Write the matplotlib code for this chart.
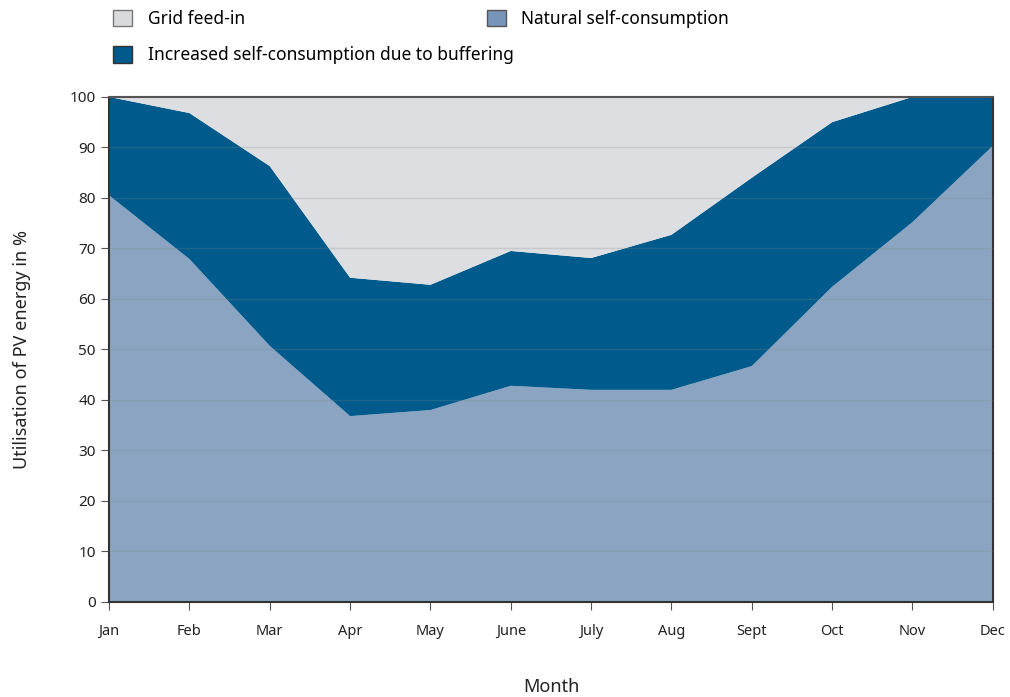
import matplotlib.pyplot as plt
import numpy as np
from matplotlib.patches import Patch

months = ["Jan", "Feb", "Mar", "Apr", "May", "June", "July", "Aug", "Sept", "Oct", "Nov", "Dec"]
natural = [80.5, 67.9, 50.7, 36.8, 38.0, 42.8, 42.0, 42.0, 46.7, 62.4, 75.2, 90.3]
total_self = [100.0, 96.8, 86.3, 64.2, 62.8, 69.5, 68.1, 72.7, 84.0, 95.0, 100.0, 100.0]
increased = [t - n for t, n in zip(total_self, natural)]
grid_feed = [100 - t for t in total_self]

c_grid = "#dddee1"
c_nat = "#8aa4c1"
c_inc = "#005a8c"

plt.rcParams['font.family'] = ['Noto Sans', 'DejaVu Sans']

fig = plt.figure(figsize=(10.1, 6.97), dpi=100)
ax = fig.add_axes([0.108, 0.1363, 0.875, 0.7247])

x = np.arange(len(months))
ax.stackplot(x, natural, increased, grid_feed, colors=[c_nat, c_inc, c_grid], linewidth=0)

ax.set_xlim(0, len(months) - 1)
ax.set_ylim(0, 100)
ax.set_xticks(x)
ax.set_xticklabels(months, fontsize=10.5, color="#222222")
ax.set_yticks(range(0, 101, 10))
ax.tick_params(axis='y', labelsize=11, colors="#222222", length=6, color="#555555")
ax.tick_params(axis='x', length=6, color="#555555", pad=10)
for y in range(10, 100, 10):
    ax.axhline(y, color="#888888", alpha=0.25, linewidth=1, zorder=3)

for s in ax.spines.values():
    s.set_color("#333333")
    s.set_linewidth(1.5)
ax.spines['top'].set_color("#555555")

ax.set_xlabel("Month", fontsize=13, labelpad=28, color="#222222")
ax.set_ylabel("Utilisation of PV energy in %", fontsize=13, labelpad=28, color="#222222")

h_left = [Patch(facecolor="#d9dadc", edgecolor="#777777", label="Grid feed-in"),
          Patch(facecolor=c_inc, edgecolor="#333333", label="Increased self-consumption due to buffering")]
h_right = [Patch(facecolor="#7894b8", edgecolor="#555555", label="Natural self-consumption")]
kw = dict(frameon=False, fontsize=12.5, handlelength=1.1, handleheight=1.1,
          labelspacing=1.05, handletextpad=0.9, borderaxespad=0)
fig.legend(handles=h_left, loc="upper left", bbox_to_anchor=(0.105, 0.996), **kw)
fig.legend(handles=h_right, loc="upper left", bbox_to_anchor=(0.475, 0.996), **kw)

fig.savefig("out.png", dpi=100)
